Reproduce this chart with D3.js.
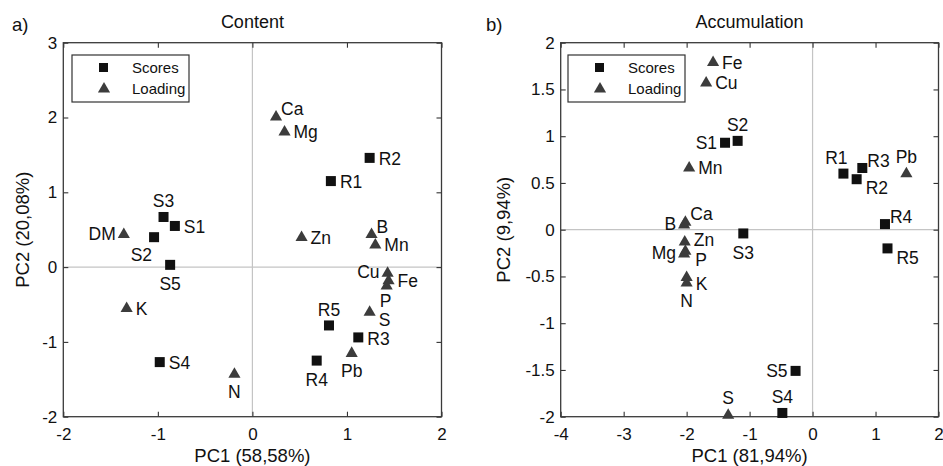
<!DOCTYPE html>
<html><head><meta charset="utf-8">
<script src="https://cdn.jsdelivr.net/npm/d3@7"></script>
<style>
body{margin:0;background:#fff;}
svg text{font-family:"Liberation Sans",Arial,sans-serif;fill:#111;}
</style></head>
<body><svg id="c" width="943" height="466"></svg>
<script>
// ---------- DATA ----------
// Panel a) Content
const contentScoreNames = ["R1","R2","R3","R4","R5","S1","S2","S3","S4","S5"];
const contentScoreX = [0.83, 1.24, 1.12, 0.68, 0.81, -0.82, -1.04, -0.94, -0.98, -0.87];
const contentScoreY = [1.15, 1.46, -0.94, -1.25, -0.78, 0.55, 0.40, 0.67, -1.27, 0.03];
const contentLoadNames = ["Ca","Mg","DM","Zn","B","Mn","Cu","Fe","P","K","S","Pb","N"];
const contentLoadX = [0.25, 0.34, -1.36, 0.52, 1.26, 1.30, 1.43, 1.44, 1.42, -1.33, 1.24, 1.05, -0.19];
const contentLoadY = [2.02, 1.82, 0.45, 0.41, 0.45, 0.31, -0.07, -0.17, -0.24, -0.54, -0.59, -1.14, -1.42];
// Panel b) Accumulation
const accumScoreNames = ["R1","R2","R3","R4","R5","S1","S2","S3","S4","S5"];
const accumScoreX = [0.49, 0.70, 0.79, 1.15, 1.19, -1.39, -1.19, -1.10, -0.48, -0.27];
const accumScoreY = [0.60, 0.54, 0.66, 0.06, -0.20, 0.93, 0.95, -0.04, -1.96, -1.51];
const accumLoadNames = ["Fe","Cu","Mn","Pb","B","Ca","Zn","Mg","P","K","N","S"];
const accumLoadX = [-1.58, -1.69, -1.96, 1.49, -2.04, -2.02, -2.03, -2.04, -2.02, -2.00, -2.00, -1.34];
const accumLoadY = [1.80, 1.58, 0.67, 0.61, 0.06, 0.09, -0.12, -0.25, -0.22, -0.50, -0.56, -1.975];
// tick values
const contentXTicks = [-2, -1, 0, 1, 2];
const contentYTicks = [-2, -1, 0, 1, 2, 3];
const accumXTicks = [-4, -3, -2, -1, 0, 1, 2];
const accumYTicks = [-2, -1.5, -1, -0.5, 0, 0.5, 1, 1.5, 2];
// texts
const panelTags = ["a)", "b)"];
const panelTitles = ["Content", "Accumulation"];
const xLabels = ["PC1 (58,58%)", "PC1 (81,94%)"];
const yLabels = ["PC2 (20,08%)", "PC2 (9,94%)"];
const legendNames = ["Scores", "Loading"];

// ---------- LABEL PLACEMENT (style, kept separate) ----------
const contentScorePlace = ["e","e","e","s","n","e","sw","n","e","s"];
const contentLoadPlace = ["ne","e","w","e","ne","e","w","e","sP","e","se","s","s"];
const accumScorePlace = ["nw","se","ne","ne","se","w","n","s","n","w"];
const accumLoadPlace = ["e","e","e","n","w","ne","eZ","w","seP","eK","s","n"];

const offs = {
  e:  {a:"start", dx:9,  dy:1},
  eZ: {a:"start", dx:9,  dy:-1},
  eK: {a:"start", dx:9,  dy:7},
  w:  {a:"end",   dx:-8, dy:0},
  n:  {a:"middle",dx:0,  dy:-16},
  s:  {a:"middle",dx:0,  dy:19},
  sP: {a:"middle",dx:-1, dy:16},
  ne: {a:"start", dx:5,  dy:-7},
  se: {a:"start", dx:9,  dy:9},
  seP:{a:"start", dx:10, dy:10},
  sw: {a:"end",   dx:-2, dy:18},
  nw: {a:"middle",dx:-7, dy:-16}
};

const svg = d3.select("#c");
const fmt = d => String(d);

function panel(cfg){
  const x = d3.scaleLinear().domain(cfg.xd).range(cfg.xr);
  const y = d3.scaleLinear().domain(cfg.yd).range([416.7, 42.7]);
  const g = svg.append("g");
  const [x0,x1] = cfg.xr, y0 = 42.7, y1 = 416.7;
  // zero lines
  g.append("line").attr("x1",x(0)).attr("x2",x(0)).attr("y1",y0).attr("y2",y1)
    .attr("stroke","#c4c4c4").attr("stroke-width",1.2);
  g.append("line").attr("x1",x0).attr("x2",x1).attr("y1",y(0)).attr("y2",y(0))
    .attr("stroke","#c4c4c4").attr("stroke-width",1.2);
  // axes
  const axStyle = s => {
    s.select(".domain").remove();
    s.selectAll(".tick line").attr("stroke","#333").attr("stroke-width",1.1);
    s.selectAll(".tick text").attr("fill","#111").style("font-size","17px")
      .style("font-family","'Liberation Sans',Arial,sans-serif");
  };
  g.append("g").attr("transform",`translate(0,${y1})`)
    .call(d3.axisBottom(x).tickValues(cfg.xt).tickFormat(fmt).tickSizeInner(-5).tickSizeOuter(0).tickPadding(11)).call(axStyle);
  g.append("g").attr("transform",`translate(0,${y0})`)
    .call(d3.axisTop(x).tickValues(cfg.xt).tickFormat("").tickSizeInner(-5).tickSizeOuter(0)).call(axStyle);
  g.append("g").attr("transform",`translate(${x0},0)`)
    .call(d3.axisLeft(y).tickValues(cfg.yt).tickFormat(fmt).tickSizeInner(-5).tickSizeOuter(0).tickPadding(6)).call(axStyle);
  g.append("g").attr("transform",`translate(${x1},0)`)
    .call(d3.axisRight(y).tickValues(cfg.yt).tickFormat("").tickSizeInner(-5).tickSizeOuter(0)).call(axStyle);
  // frame
  g.append("rect").attr("x",x0).attr("y",y0).attr("width",x1-x0).attr("height",y1-y0)
    .attr("fill","none").attr("stroke","#3a3a3a").attr("stroke-width",1.3);
  // titles
  g.append("text").attr("x",(x0+x1)/2).attr("y",28).attr("text-anchor","middle")
    .style("font-size","18px").text(cfg.title);
  g.append("text").attr("x",cfg.tagX).attr("y",31).style("font-size","18.5px").text(cfg.tag);
  g.append("text").attr("x",(x0+x1)/2).attr("y",462).attr("text-anchor","middle")
    .style("font-size","18.5px").text(cfg.xl);
  g.append("text").attr("transform",`translate(${cfg.ylX},${(y0+y1)/2}) rotate(-90)`)
    .attr("text-anchor","middle").style("font-size","18.5px").text(cfg.yl);

  const tri = d3.symbol().type(d3.symbolTriangle).size(64);
  // loadings
  cfg.ln.forEach((n,i)=>{
    g.append("path").attr("d",tri()).attr("fill","#3c3c3c")
      .attr("transform",`translate(${x(cfg.lx[i])},${y(cfg.ly[i])+1})`);
  });
  // scores
  cfg.sn.forEach((n,i)=>{
    g.append("rect").attr("x",x(cfg.sx[i])-5).attr("y",y(cfg.sy[i])-5)
      .attr("width",10).attr("height",10).attr("fill","#111");
  });
  // labels
  const lab = (names, xs, ys, place) => names.forEach((n,i)=>{
    const o = offs[place[i]];
    g.append("text").attr("x",x(xs[i])+o.dx).attr("y",y(ys[i])+o.dy)
      .attr("dy","0.35em").attr("text-anchor",o.a).style("font-size","17.5px").text(n);
  });
  lab(cfg.ln,cfg.lx,cfg.ly,cfg.lp);
  lab(cfg.sn,cfg.sx,cfg.sy,cfg.sp);
  // legend
  const lg = g.append("g").attr("transform",`translate(${cfg.legX},55)`);
  lg.append("rect").attr("x",0).attr("y",0).attr("width",117).attr("height",47)
    .attr("fill","#fff").attr("stroke","#333").attr("stroke-width",1.2);
  lg.append("rect").attr("x",27).attr("y",8).attr("width",9).attr("height",9).attr("fill","#111");
  lg.append("path").attr("d",tri()).attr("fill","#3c3c3c").attr("transform","translate(32,34)");
  lg.append("text").attr("x",60).attr("y",13).attr("dy","0.35em").style("font-size","15px").text(legendNames[0]);
  lg.append("text").attr("x",60).attr("y",34).attr("dy","0.35em").style("font-size","15px").text(legendNames[1]);
}

panel({xd:[-2,2], xr:[63.3,441.5], yd:[-2,3], xt:contentXTicks, yt:contentYTicks,
  title:panelTitles[0], tag:panelTags[0], tagX:12, xl:xLabels[0], yl:yLabels[0], ylX:29, legX:72,
  sn:contentScoreNames, sx:contentScoreX, sy:contentScoreY, sp:contentScorePlace,
  ln:contentLoadNames, lx:contentLoadX, ly:contentLoadY, lp:contentLoadPlace});
panel({xd:[-4,2], xr:[560.7,938.5], yd:[-2,2], xt:accumXTicks, yt:accumYTicks,
  title:panelTitles[1], tag:panelTags[1], tagX:486, xl:xLabels[1], yl:yLabels[1], ylX:510, legX:568,
  sn:accumScoreNames, sx:accumScoreX, sy:accumScoreY, sp:accumScorePlace,
  ln:accumLoadNames, lx:accumLoadX, ly:accumLoadY, lp:accumLoadPlace});
</script></body></html>
